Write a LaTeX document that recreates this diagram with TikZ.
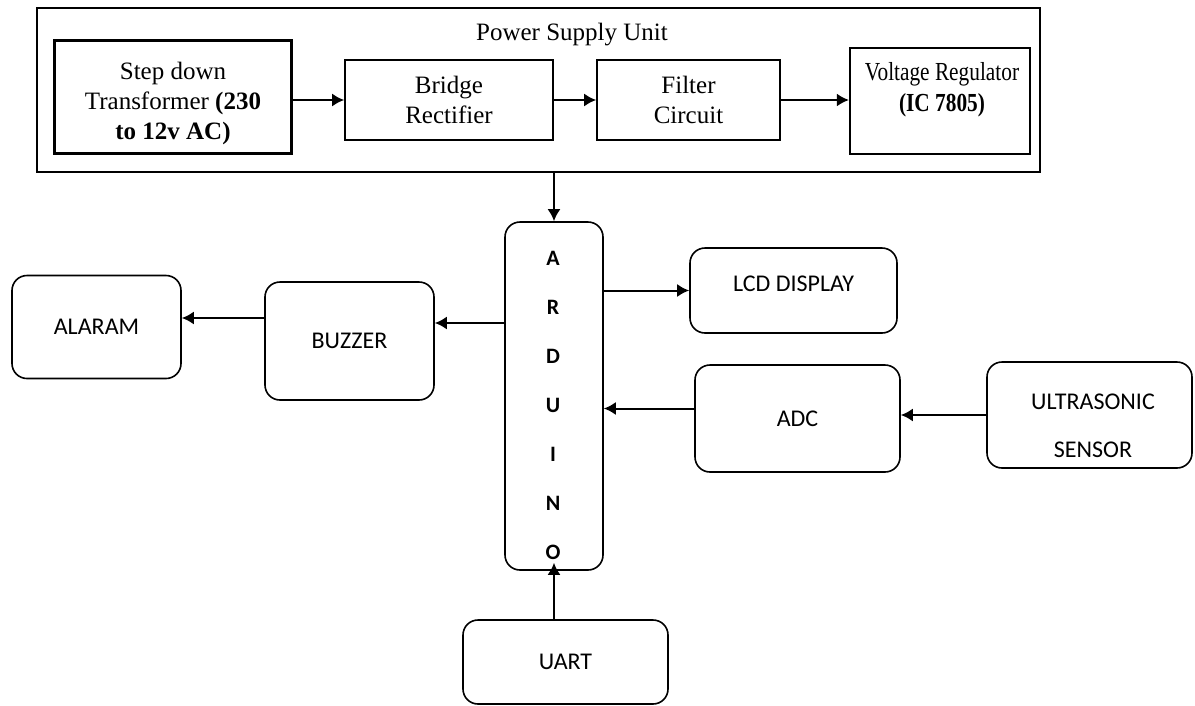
\documentclass[tikz,border=0pt]{standalone}
\usepackage{fontspec}
\setmainfont{Liberation Serif}
\newfontfamily\calibri{Carlito}
\newfontfamily\narrowserif[FakeStretch=0.82]{Liberation Serif}
\usetikzlibrary{arrows.meta,positioning,calc}
\tikzset{
psbox/.style={draw=black, line width=1.6pt, align=center, inner sep=2pt, font=\fontsize{25}{30}\selectfont},
psheavy/.style={psbox, line width=2.2pt},
blockbox/.style={draw=black, line width=1.6pt, rounded corners=15pt, align=center, inner sep=2pt, font=\calibri\fontsize{24}{28}\selectfont},
blockarrow/.style={-{Latex[length=12pt,width=13pt]}, line width=2pt}
}
\begin{document}
\begin{tikzpicture}[x=1pt, y=-1pt]
  \useasboundingbox (0,0) rectangle (1195,705);
  % power supply unit
  \node[psbox, line width=2pt, minimum width=1003pt, minimum height=164pt] (psu) at (538.5,90) {};
  \node[font=\fontsize{25}{30}\selectfont] (psutitle) at (572,35) {Power Supply Unit};
  \node[psheavy, minimum width=237pt, minimum height=113pt] (stepdown) at (173,97) {};
  \node[align=center, font=\fontsize{25}{30}\selectfont] (stepdowntext) at (173,103) {Step down\\Transformer \textbf{(230}\\\textbf{to 12v AC)}};
  \node[psbox, minimum width=208pt, minimum height=80pt] (bridge) at (449,100) {Bridge\\Rectifier};
  \node[psbox, minimum width=183pt, minimum height=80pt] (filter) at (688.5,100) {Filter\\Circuit};
  \node[psheavy, minimum width=180pt, minimum height=106pt] (vreg) at (940,101) {};
  \node[align=center, font=\narrowserif\fontsize{26}{31}\selectfont] (vregtext) at (942,90) {Voltage Regulator\\\textbf{(IC 7805)}};
  \draw[blockarrow] (stepdown.east |- bridge.west) -- (bridge.west);
  \draw[blockarrow] (bridge.east) -- (filter.west);
  \draw[blockarrow] (filter.east) -- (filter.east -| vreg.west);
  % controller and peripherals
  \node[blockbox, minimum width=98pt, minimum height=348pt] (ard) at (554,396) {};
  \node[align=center, font=\calibri\bfseries\fontsize{22}{49}\selectfont] (ardtext) at (553,405) {A\\R\\D\\U\\I\\N\\O};
  \node[blockbox, minimum width=207pt, minimum height=85pt, text depth=14pt] (lcd) at (793.5,290.5) {LCD DISPLAY};
  \node[blockbox, minimum width=169pt, minimum height=118pt] (buzzer) at (349.5,341) {BUZZER};
  \node[blockbox, minimum width=169pt, minimum height=103pt] (alaram) at (96.5,327) {ALARAM};
  \node[blockbox, minimum width=205pt, minimum height=107pt] (adc) at (797.5,418.5) {ADC};
  \node[blockbox, minimum width=205pt, minimum height=106pt] (ultra) at (1089.5,415) {};
  \node[align=center, font=\calibri\fontsize{24}{48}\selectfont] (ultratext) at (1093,426) {ULTRASONIC\\SENSOR};
  \node[blockbox, minimum width=205pt, minimum height=84pt] (uart) at (565.5,662) {UART};
  \coordinate (buzin) at ([yshift=18pt]buzzer.east);
  \coordinate (alain) at ([yshift=9pt]alaram.east);
  \coordinate (adcout) at ([yshift=10pt]adc.west);
  \draw[blockarrow] (psu.south -| ard.north) -- (ard.north);
  \draw[blockarrow] (ard.east |- lcd.west) -- (lcd.west);
  \draw[blockarrow] (ard.west |- buzin) -- (buzin);
  \draw[blockarrow] (buzzer.west |- alain) -- (alain);
  \draw[blockarrow] (adcout) -- (ard.east |- adcout);
  \draw[blockarrow] (ultra.west) -- (adc.east |- ultra.west);
  \draw[blockarrow] (uart.north -| ard.south) -- ([yshift=8pt]ard.south);
\end{tikzpicture}
\end{document}
